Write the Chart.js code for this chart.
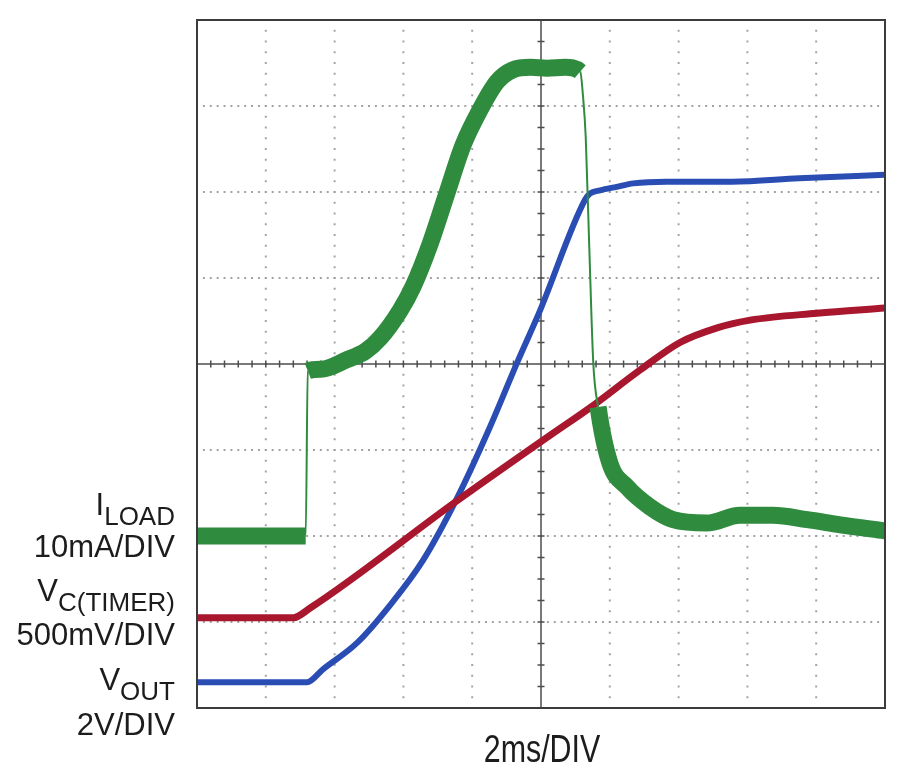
<!DOCTYPE html>
<html>
<head>
<meta charset="utf-8">
<title>Scope capture</title>
<script src="https://cdn.jsdelivr.net/npm/chart.js@4.4.1/dist/chart.umd.min.js"></script>
<style>
  html, body { margin: 0; padding: 0; background: #fff; overflow: hidden; }
  #wrap { position: relative; width: 900px; height: 783px; }
  #scope { position: absolute; left: 0; top: 0; }
  .lbl {
    position: absolute;
    right: 725px;
    font-family: "Liberation Sans", Arial, sans-serif;
    font-size: 31px;
    line-height: 31px;
    color: #1c1c1c;
    text-align: right;
    white-space: nowrap;
  }
  .lbl sub {
    font-size: 26px;
    line-height: 0;
    vertical-align: -10px;
  }
  #xlabel {
    position: absolute;
    left: 442px;
    width: 200px;
    top: 736px;
    text-align: center;
    font-family: "Liberation Sans", Arial, sans-serif;
    font-size: 32px;
    line-height: 31px;
    color: #1c1c1c;
    transform: scale(0.95, 1.2);
    transform-origin: 50% 26px;
  }
</style>
</head>
<body>
<div id="wrap">
  <canvas id="scope" width="900" height="783"></canvas>
  <div class="lbl" style="top:489px">I<sub>LOAD</sub></div>
  <div class="lbl" style="top:531px">10mA/DIV</div>
  <div class="lbl" style="top:575px">V<sub>C(TIMER)</sub></div>
  <div class="lbl" style="top:619px">500mV/DIV</div>
  <div class="lbl" style="top:664px">V<sub>OUT</sub></div>
  <div class="lbl" style="top:709px">2V/DIV</div>
  <div id="xlabel">2ms/DIV</div>
</div>
<script>
// screen is 10 x 8 divisions, x counted from the left edge, y from the centre line
const xDivs = 10;
const yDivs = 8;

// I_LOAD trace (green)
const iloadX = [0, 0.5, 1.0, 1.58, 1.61, 1.8, 2.18, 2.45, 2.66, 2.95, 3.14, 3.39, 3.63, 3.87, 4.11, 4.36, 4.59, 4.85, 5.09, 5.35, 5.57, 5.61, 5.65, 5.70, 5.76, 5.83, 6.00, 6.25, 6.58, 6.92, 7.41, 7.89, 8.37, 8.87, 9.35, 10.0];
const iloadY = [-2.0, -2.0, -2.0, -2.0, -0.08, -0.06, 0.05, 0.15, 0.30, 0.62, 0.90, 1.40, 1.98, 2.55, 2.95, 3.28, 3.42, 3.45, 3.44, 3.45, 3.40, 3.12, 2.64, 1.4, 0.01, -0.50, -1.15, -1.43, -1.66, -1.81, -1.85, -1.76, -1.76, -1.81, -1.87, -1.94];

// V_C(TIMER) trace (red)
const timerX = [0, 0.7, 1.40, 1.64, 3.78, 5.13, 5.71, 6.44, 7.02, 7.56, 8.04, 9.01, 10.0];
const timerY = [-2.95, -2.95, -2.95, -2.84, -1.59, -0.83, -0.51, -0.07, 0.25, 0.42, 0.51, 0.59, 0.65];

// V_OUT trace (blue)
const voutX = [0, 0.8, 1.60, 1.83, 2.33, 2.81, 3.28, 3.78, 4.26, 4.65, 4.99, 5.64, 5.71, 5.86, 6.10, 6.34, 6.82, 7.78, 8.75, 10.0];
const voutY = [-3.70, -3.70, -3.70, -3.55, -3.24, -2.80, -2.29, -1.56, -0.73, 0.01, 0.63, 1.91, 1.98, 2.02, 2.06, 2.10, 2.12, 2.12, 2.16, 2.20];

function toPoints(xs, ys) {
  return xs.map((x, i) => ({ x: x, y: ys[i] }));
}

// near vertical parts of a trace are fast edges: draw them thin
function edgeWidth(thick) {
  return (c) => {
    const dx = Math.abs(c.p1.x - c.p0.x);
    const dy = Math.abs(c.p1.y - c.p0.y);
    return dy > 6 * dx ? 2 : thick;
  };
}

// oscilloscope graticule: dotted grid, centre cross with minor ticks, frame
const graticule = {
  id: "graticule",
  beforeDatasetsDraw(chart) {
    const { ctx, chartArea: a, scales } = chart;
    const x = scales.x, y = scales.y;
    ctx.save();
    ctx.fillStyle = "#a3a3a3";
    for (let i = 1; i < xDivs; i++) {
      if (i === xDivs / 2) continue;
      const px = x.getPixelForValue(i);
      for (let k = 0; k <= yDivs * 8; k++) {
        ctx.fillRect(px - 1, y.getPixelForValue(-yDivs / 2 + k / 8) - 1, 2, 2);
      }
    }
    for (let j = 1; j < yDivs; j++) {
      if (j === yDivs / 2) continue;
      const py = y.getPixelForValue(-yDivs / 2 + j);
      for (let k = 0; k <= xDivs * 10; k++) {
        ctx.fillRect(x.getPixelForValue(k / 10) - 1, py - 1, 2, 2);
      }
    }
    const cx = x.getPixelForValue(xDivs / 2);
    const cy = y.getPixelForValue(0);
    ctx.strokeStyle = "#4d4d4d";
    ctx.lineWidth = 1.5;
    ctx.beginPath();
    ctx.moveTo(a.left, cy); ctx.lineTo(a.right, cy);
    ctx.moveTo(cx, a.top); ctx.lineTo(cx, a.bottom);
    for (let k = 1; k < xDivs * 5; k++) {
      const px = x.getPixelForValue(k / 5);
      ctx.moveTo(px, cy - 3.5); ctx.lineTo(px, cy + 3.5);
    }
    for (let k = 1; k < yDivs * 4; k++) {
      const py = y.getPixelForValue(-yDivs / 2 + k / 4);
      ctx.moveTo(cx - 3.5, py); ctx.lineTo(cx + 3.5, py);
    }
    ctx.stroke();
    ctx.restore();
  },
  afterDatasetsDraw(chart) {
    const { ctx, chartArea: a } = chart;
    ctx.save();
    ctx.strokeStyle = "#3c3c3c";
    ctx.lineWidth = 2;
    ctx.strokeRect(a.left, a.top, a.right - a.left, a.bottom - a.top);
    ctx.restore();
  }
};

const ctx = document.getElementById("scope").getContext("2d");
new Chart(ctx, {
  type: "scatter",
  data: {
    datasets: [
      {
        label: "ILOAD",
        data: toPoints(iloadX, iloadY),
        showLine: true,
        borderColor: "#2f8c3e",
        borderWidth: 17,
        pointRadius: 0,
        cubicInterpolationMode: "monotone",
        borderJoinStyle: "round",
        segment: { borderWidth: edgeWidth(17) },
        order: 1
      },
      {
        label: "VC(TIMER)",
        data: toPoints(timerX, timerY),
        showLine: true,
        borderColor: "#a8172e",
        borderWidth: 7,
        pointRadius: 0,
        cubicInterpolationMode: "monotone",
        borderJoinStyle: "round",
        order: 2
      },
      {
        label: "VOUT",
        data: toPoints(voutX, voutY),
        showLine: true,
        borderColor: "#2a4db3",
        borderWidth: 6,
        pointRadius: 0,
        cubicInterpolationMode: "monotone",
        borderJoinStyle: "round",
        order: 3
      }
    ]
  },
  options: {
    responsive: false,
    animation: false,
    layout: { padding: { left: 197, top: 20, right: 15, bottom: 75 } },
    scales: {
      x: { type: "linear", min: 0, max: xDivs, display: false },
      y: { type: "linear", min: -yDivs / 2, max: yDivs / 2, display: false }
    },
    plugins: {
      legend: { display: false },
      tooltip: { enabled: false }
    }
  },
  plugins: [graticule]
});
</script>
</body>
</html>
